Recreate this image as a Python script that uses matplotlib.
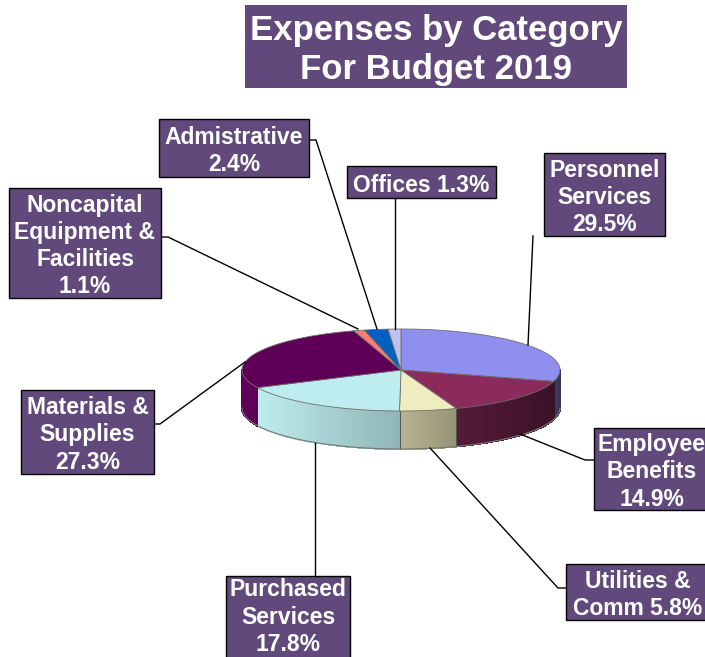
import matplotlib
matplotlib.use('Agg')
import matplotlib.pyplot as plt
from matplotlib.collections import PolyCollection
from matplotlib.colors import to_rgb
from matplotlib.patches import Polygon, Rectangle
import numpy as np

#Data, clockwise from 12 o'clock
values = [29.5, 14.9, 5.8, 17.8, 27.3, 1.1, 2.4, 1.3]
labels = ['Personnel\nServices\n{}%', 'Employee\nBenefits\n{}%', 'Utilities &\nComm {}%',
          'Purchased\nServices\n{}%', 'Materials &\nSupplies\n{}%',
          'Noncapital\nEquipment &\nFacilities\n{}%', 'Admistrative\n{}%', 'Offices {}%']
colors = ['#8F8FEF', '#8A2B5C', '#EFEDBF', '#BDEDEE', '#5F0058', '#FF7C70', '#0060C0', '#C0C0F0']
title = 'Expenses by Category\nFor Budget 2019'

#Layout in pixels
W, H = 705, 657
cx, cy, rx, ry, depth = 401, 370, 159, 41, 38
purple = '#614A7B'
#x0, y0, x1, y1 of each label box, same order as values
boxes = [(544, 153, 665, 236), (594, 428, 712, 510), (566, 564, 712, 620),
         (226, 576, 350, 664), (21, 390, 154, 474),
         (9, 188, 161, 298), (159, 119, 309, 177), (347, 166, 496, 198)]
#x, y of each label's text centre
text_pos = [(604.5, 197.5), (651.5, 472), (638, 595),
            (288, 617), (87.5, 435), (85, 246), (234, 151), (421.5, 185)]
leaders = [[(533, 236), (528, 345)],
           [(594, 460), (585, 460), (520, 434)],
           [(566, 588), (558, 588), (430, 448)],
           [(315, 576), (315, 443)],
           [(154, 424), (160, 424), (245, 362)],
           [(161, 237), (168, 237), (358, 329)],
           [(309, 140), (316, 140), (377, 329)],
           [(395, 198), (395, 329)]]


def px(theta):
    #theta in degrees clockwise from the top
    t = np.radians(theta)
    return cx + rx * np.sin(t), cy - ry * np.cos(t)


def shade(x):
    #side wall gets darker to the right
    return np.interp(x, [258, 399, 456, 553, 560], [1.0, 0.76, 0.62, 0.42, 0.36])


fig = plt.figure(figsize=(W / 100, H / 100), dpi=100)
ax = fig.add_axes([0, 0, 1, 1])
ax.set_xlim(0, W)
ax.set_ylim(H, 0)
ax.axis('off')

edges = np.cumsum([0] + values) / sum(values) * 360

#side walls first, only the front half shows
for i, col in enumerate(colors):
    a0, a1 = max(edges[i], 90), min(edges[i + 1], 270)
    if a1 <= a0:
        continue
    th = np.linspace(a0, a1, int(a1 - a0) * 2 + 2)
    xs, ys = px(th)
    quads, cols = [], []
    for j in range(len(th) - 1):
        quads.append([(xs[j], ys[j]), (xs[j + 1], ys[j + 1]),
                      (xs[j + 1], ys[j + 1] + depth), (xs[j], ys[j] + depth)])
        k = shade((xs[j] + xs[j + 1]) / 2)
        cols.append(tuple(np.array(to_rgb(col)) * k))
    ax.add_collection(PolyCollection(quads, facecolors=cols, edgecolors=cols, linewidths=0.8,
                                     antialiaseds=False, zorder=1))
    #seams between wedges on the wall
    for x, y in [(xs[0], ys[0]), (xs[-1], ys[-1])]:
        if 258 < x < 460:
            ax.plot([x, x], [y, y + depth], color='#555555', lw=0.6, zorder=2)

th = np.linspace(90, 270, 200)
xs, ys = px(th)
ax.plot(xs, ys + depth, color='#777777', lw=0.8, zorder=2)

#top face
for i, col in enumerate(colors):
    th = np.linspace(edges[i], edges[i + 1], 80)
    xs, ys = px(th)
    pts = [(cx, cy)] + list(zip(xs, ys))
    ax.add_patch(Polygon(pts, closed=True, facecolor=col, edgecolor='#6E6E6E', lw=0.6, zorder=3))

#leader lines
for line in leaders:
    ax.plot([p[0] for p in line], [p[1] for p in line], color='black', lw=1.0, zorder=4)

#label boxes
for name, val, (x0, y0, x1, y1), (tx, ty) in zip(labels, values, boxes, text_pos):
    ax.add_patch(Rectangle((x0, y0), x1 - x0, y1 - y0, facecolor=purple, edgecolor='black', lw=1.0, zorder=5))
    ax.text(tx, ty, name.format(val), color='white', fontsize=16.5, fontweight='bold',
            family='Liberation Sans', ha='center', va='center', linespacing=1.23, zorder=6)

#title
ax.add_patch(Rectangle((245, 5), 382, 83, facecolor=purple, edgecolor='none', zorder=5))
ax.text(436, 50, title, color='white', fontsize=25, fontweight='bold', family='Liberation Sans',
        ha='center', va='center', linespacing=1.22, zorder=6)

fig.savefig('out.png', dpi=100)
